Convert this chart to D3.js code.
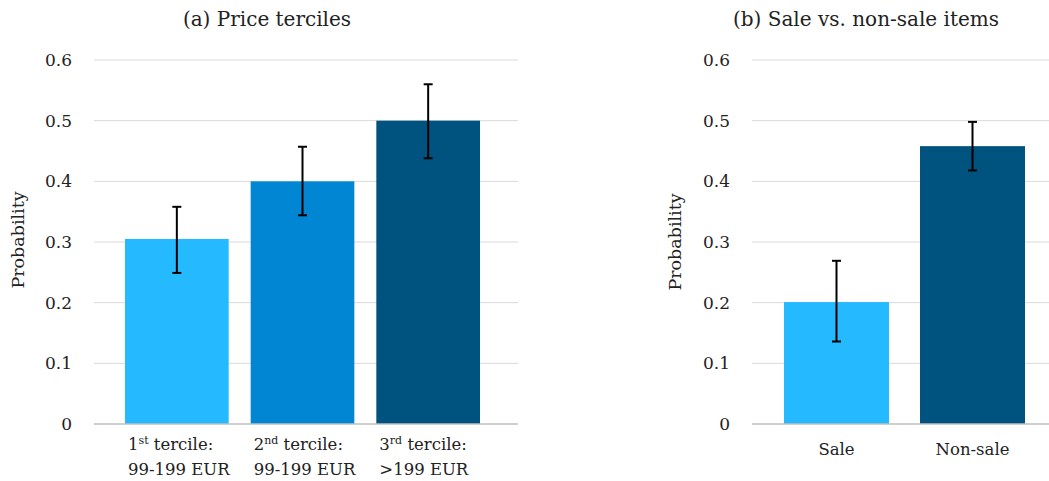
<!DOCTYPE html>
<html>
<head>
<meta charset="utf-8">
<script src="https://cdn.jsdelivr.net/npm/d3@7"></script>
<style>
  body { margin: 0; background: #fff; }
  text { font-family: "DejaVu Serif", serif; fill: #222; }
</style>
</head>
<body>
<script>
// panel (a) data
const tercileNum = ["1", "2", "3"];
const tercileSup = ["st", "nd", "rd"];
const tercileRange = ["99-199 EUR", "99-199 EUR", ">199 EUR"];
const tercileValues = [0.305, 0.400, 0.500];
const tercileLow = [0.249, 0.344, 0.438];
const tercileHigh = [0.358, 0.457, 0.560];
const tercileColors = ["#25b9ff", "#0086d2", "#00527f"];

// panel (b) data
const saleCats = ["Sale", "Non-sale"];
const saleValues = [0.201, 0.458];
const saleLow = [0.136, 0.418];
const saleHigh = [0.269, 0.498];
const saleColors = ["#25b9ff", "#00527f"];

const yTicks = [0, 0.1, 0.2, 0.3, 0.4, 0.5, 0.6];

const svg = d3.select("body").append("svg")
    .attr("width", 1049)
    .attr("height", 481);

const y = d3.scaleLinear().domain([0, 0.6]).range([424, 60]);

// draws one panel: grid, axis, bars, error bars
function panel(opts) {
    const g = svg.append("g");
    const x = d3.scaleBand()
        .domain(opts.cats)
        .range(opts.band)
        .paddingInner(opts.pad)
        .paddingOuter(opts.pad / 2);

    // gridlines
    g.selectAll("line.grid")
        .data(yTicks.filter(d => d > 0))
        .join("line")
        .attr("x1", opts.gx[0]).attr("x2", opts.gx[1])
        .attr("y1", d => y(d)).attr("y2", d => y(d))
        .attr("stroke", "#d9d9d9")
        .attr("stroke-width", 1);

    // tick labels
    g.selectAll("text.tick")
        .data(yTicks)
        .join("text")
        .attr("x", opts.tickX)
        .attr("y", d => y(d))
        .attr("dy", "0.36em")
        .attr("text-anchor", "end")
        .style("font-size", "17px")
        .text(d => d === 0 ? "0" : d.toFixed(1));

    // bars
    const data = opts.cats.map((c, i) => ({
        cat: c, v: opts.values[i], lo: opts.low[i], hi: opts.high[i], col: opts.colors[i]
    }));
    g.selectAll("rect")
        .data(data)
        .join("rect")
        .attr("x", d => x(d.cat))
        .attr("width", x.bandwidth())
        .attr("y", d => y(d.v))
        .attr("height", d => y(0) - y(d.v))
        .attr("fill", d => d.col);

    // base axis line
    g.append("line")
        .attr("x1", opts.gx[0]).attr("x2", opts.gx[1])
        .attr("y1", y(0)).attr("y2", y(0))
        .attr("stroke", "#bfbfbf")
        .attr("stroke-width", 1.5);

    // error bars
    const eb = g.selectAll("g.err")
        .data(data)
        .join("g")
        .attr("stroke", "#000")
        .attr("stroke-width", 2);
    const cx = d => x(d.cat) + x.bandwidth() / 2;
    eb.append("line")
        .attr("x1", cx).attr("x2", cx)
        .attr("y1", d => y(d.lo)).attr("y2", d => y(d.hi));
    eb.append("line")
        .attr("x1", d => cx(d) - 4.5).attr("x2", d => cx(d) + 4.5)
        .attr("y1", d => y(d.hi)).attr("y2", d => y(d.hi));
    eb.append("line")
        .attr("x1", d => cx(d) - 4.5).attr("x2", d => cx(d) + 4.5)
        .attr("y1", d => y(d.lo)).attr("y2", d => y(d.lo));

    // titles
    g.append("text")
        .attr("x", opts.titleX).attr("y", 26)
        .attr("text-anchor", "middle")
        .style("font-size", "20px")
        .text(opts.title);

    g.append("text")
        .attr("transform", `translate(${opts.ylabX},${opts.ylabY}) rotate(-90)`)
        .attr("text-anchor", "middle")
        .style("font-size", "17.5px")
        .text("Probability");

    return x;
}

const xa = panel({
    cats: tercileNum, values: tercileValues, low: tercileLow, high: tercileHigh,
    colors: tercileColors, band: [114, 491], pad: 0.175, gx: [94, 518],
    tickX: 72, title: "(a) Price terciles", titleX: 267, ylabX: 24, ylabY: 240
});

// tercile labels, left aligned under each bar
const lab = svg.append("g").selectAll("g")
    .data(tercileNum)
    .join("g");
const l1 = lab.append("text")
    .attr("x", d => xa(d) + 3)
    .attr("y", 450)
    .style("font-size", "16.5px");
l1.append("tspan").text(d => d);
l1.append("tspan")
    .attr("dy", -6)
    .style("font-size", "11px")
    .text((d, i) => tercileSup[i]);
l1.append("tspan")
    .attr("dy", 6)
    .text(" tercile:");
lab.append("text")
    .attr("x", d => xa(d) + 3)
    .attr("y", 475)
    .style("font-size", "16.5px")
    .text((d, i) => tercileRange[i]);

const xb = panel({
    cats: saleCats, values: saleValues, low: saleLow, high: saleHigh,
    colors: saleColors, band: [768.5, 1040.5], pad: 0.228, gx: [752, 1049],
    tickX: 730, title: "(b) Sale vs. non-sale items", titleX: 866, ylabX: 681, ylabY: 242
});

svg.append("g").selectAll("text")
    .data(saleCats)
    .join("text")
    .attr("x", d => xb(d) + xb.bandwidth() / 2)
    .attr("y", 455)
    .attr("text-anchor", "middle")
    .style("font-size", "16.5px")
    .text(d => d);
</script>
</body>
</html>
